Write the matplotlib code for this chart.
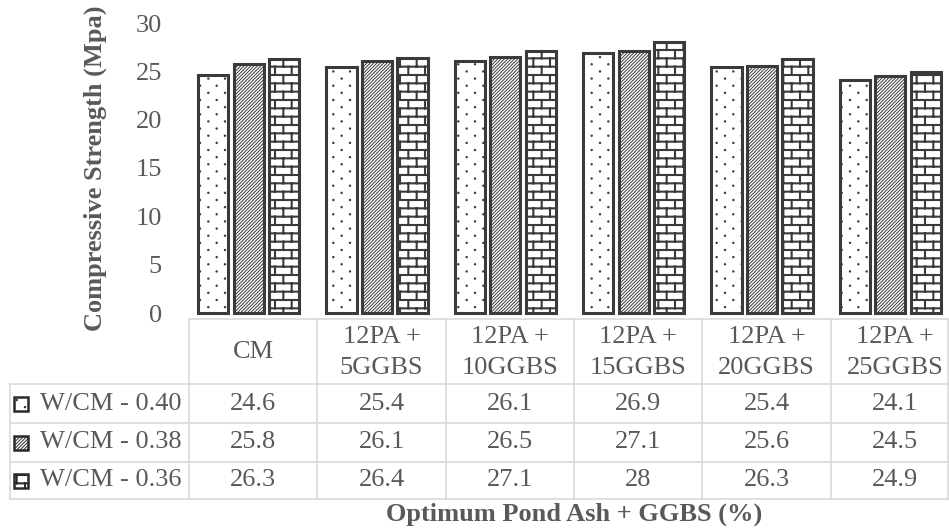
import numpy as np
import matplotlib
matplotlib.use("Agg")
import matplotlib.pyplot as plt
import matplotlib.hatch as mhatch
import matplotlib.transforms as mtransforms
from matplotlib.path import Path
from matplotlib.patches import Rectangle
from matplotlib.lines import Line2D

# ---------------- data ----------------
categories = ["CM", "12PA +\n5GGBS", "12PA +\n10GGBS", "12PA +\n15GGBS",
              "12PA +\n20GGBS", "12PA +\n25GGBS"]
series_names = ["W/CM - 0.40", "W/CM - 0.38", "W/CM - 0.36"]
wcm_040 = [24.6, 25.4, 26.1, 26.9, 25.4, 24.1]
wcm_038 = [25.8, 26.1, 26.5, 27.1, 25.6, 24.5]
wcm_036 = [26.3, 26.4, 27.1, 28, 26.3, 24.9]
yticks = [0, 5, 10, 15, 20, 25, 30]
ylabel = "Compressive Strength (Mpa)"
xlabel = "Optimum Pond Ash + GGBS (%)"

# ---------------- custom hatches ----------------
class BrickHatch(mhatch.HatchPatternBase):
    def __init__(self, hatch, density):
        n = hatch.count("b")
        self.rows = 12 * n
        self.cols = 6 * n
        segs = []
        if n:
            for i in range(self.rows + 1):
                y = i / self.rows
                segs.append(((0.0, y), (1.0, y)))
            for i in range(self.rows):
                y0, y1 = i / self.rows, (i + 1) / self.rows
                if i % 2 == 0:
                    xs = [j / self.cols for j in range(self.cols + 1)]
                else:
                    xs = [(j + 0.5) / self.cols for j in range(self.cols)]
                for x in xs:
                    segs.append(((x, y0), (x, y1)))
        self.segs = segs
        self.num_vertices = 2 * len(segs)

    def set_vertices_and_codes(self, vertices, codes):
        for k, (a, b) in enumerate(self.segs):
            vertices[2 * k] = a
            vertices[2 * k + 1] = b
            codes[2 * k] = Path.MOVETO
            codes[2 * k + 1] = Path.LINETO


class DotHatch(mhatch.HatchPatternBase):
    def __init__(self, hatch, density):
        n = hatch.count("d")
        self.rows = 14 * n
        self.cols = 6 * n
        self.radius = 0.005
        centers = []
        if n:
            for i in range(self.rows + 1):
                y = i / self.rows
                if i % 2 == 0:
                    xs = [j / self.cols for j in range(self.cols + 1)]
                else:
                    xs = [(j + 0.5) / self.cols for j in range(self.cols)]
                for x in xs:
                    centers.append((x, y))
        self.centers = centers
        circ = Path.unit_circle()
        self.cv = circ.vertices
        self.cc = circ.codes
        self.num_vertices = len(centers) * len(self.cv)

    def set_vertices_and_codes(self, vertices, codes):
        m = len(self.cv)
        for k, c in enumerate(self.centers):
            vertices[k * m:(k + 1) * m] = self.cv * self.radius + np.array(c)
            codes[k * m:(k + 1) * m] = self.cc


mhatch._hatch_types.append(BrickHatch)
mhatch._hatch_types.append(DotHatch)
mhatch._validate_hatch_pattern = lambda h: None

# ---------------- styling ----------------
plt.rcParams["font.family"] = ["Liberation Serif", "DejaVu Serif"]
TXT = "#595959"
EDGE = "#3a3a3a"
GRID = "#d9d9d9"
FS = 19

W, H = 949, 531
fig = plt.figure(figsize=(W / 100, H / 100), dpi=100)
fig.patch.set_facecolor("white")


def fx(px):
    return px / W


def fy(py):
    return 1 - py / H


ax = fig.add_axes([fx(189), fy(313), 770 / W, 290 / H])
ax.set_xlim(-0.5, 5.5)
ax.set_ylim(0, 30)
for s in ax.spines.values():
    s.set_visible(False)
ax.set_xticks([])
ax.set_yticks(yticks)
ax.set_yticklabels([str(t) for t in yticks])
ax.tick_params(axis="y", length=0, pad=19.5, labelsize=FS, labelcolor=TXT)

series = [wcm_040, wcm_038, wcm_036]
hatches = ["d", "/" * 10, "b"]
hatch_lw = [1.0, 0.7, 1.5]
x = np.arange(len(categories))
shift = -0.035
pitch = 0.277
width = 0.235
for k, vals in enumerate(series):
    with plt.rc_context({"hatch.linewidth": hatch_lw[k]}):
        bars = ax.bar(x + shift + (k - 1) * pitch, vals, width,
                      facecolor="white", edgecolor=EDGE, linewidth=2.2,
                      hatch=hatches[k], zorder=3)
    for b in bars:
        b.set_clip_on(False)
        if hasattr(b, "set_hatch_linewidth"):
            b.set_hatch_linewidth(hatch_lw[k])

# ---------------- data table ----------------
bt = mtransforms.blended_transform_factory(ax.transData, fig.transFigure)
top, hdr_bot = 319, 384
row_lines = [384, 423, 462, 499]
right_px = 948

fig.add_artist(Line2D([fx(189), fx(right_px)], [fy(top), fy(top)],
                      color=GRID, lw=1.2, transform=fig.transFigure))
for yl in row_lines:
    fig.add_artist(Line2D([fx(10), fx(right_px)], [fy(yl), fy(yl)],
                          color=GRID, lw=1.2, transform=fig.transFigure))
for i in range(len(categories)):
    fig.add_artist(Line2D([i - 0.5, i - 0.5], [fy(top), fy(499)],
                          color=GRID, lw=1.2, transform=bt))
fig.add_artist(Line2D([fx(right_px), fx(right_px)], [fy(top), fy(499)],
                      color=GRID, lw=1.2, transform=fig.transFigure))
fig.add_artist(Line2D([fx(10), fx(10)], [fy(hdr_bot), fy(499)],
                      color=GRID, lw=1.2, transform=fig.transFigure))

for i, c in enumerate(categories):
    fig.text(i, fy((top + hdr_bot) / 2 + 1), c, transform=bt, ha="center",
             va="center", ma="center", fontsize=FS, color=TXT,
             linespacing=1.5)

for k, (name, vals) in enumerate(zip(series_names, series)):
    yc = (row_lines[k] + row_lines[k + 1]) / 2
    with plt.rc_context({"hatch.linewidth": hatch_lw[k]}):
        key = Rectangle((fx(14), fy(yc + 7)), 14 / W, 14 / H,
                        transform=fig.transFigure, facecolor="white",
                        edgecolor="#2a2a2a", linewidth=1.8,
                        hatch=hatches[k])
    if hasattr(key, "set_hatch_linewidth"):
        key.set_hatch_linewidth(hatch_lw[k])
    fig.add_artist(key)
    fig.text(fx(40), fy(yc), name, ha="left", va="center",
             fontsize=FS, color=TXT)
    for i, v in enumerate(vals):
        fig.text(i, fy(yc), f"{v:g}", transform=bt, ha="center",
                 va="center", fontsize=FS, color=TXT)

fig.text(fx(95), fy(168), ylabel, rotation=90, ha="center", va="center",
         fontsize=FS, fontweight="bold", color=TXT)
xt = mtransforms.blended_transform_factory(ax.transAxes, fig.transFigure)
fig.text(0.5, fy(514), xlabel, transform=xt, ha="center", va="center",
         fontsize=FS, fontweight="bold", color=TXT)

fig.savefig("out.png", dpi=100, facecolor="white")
